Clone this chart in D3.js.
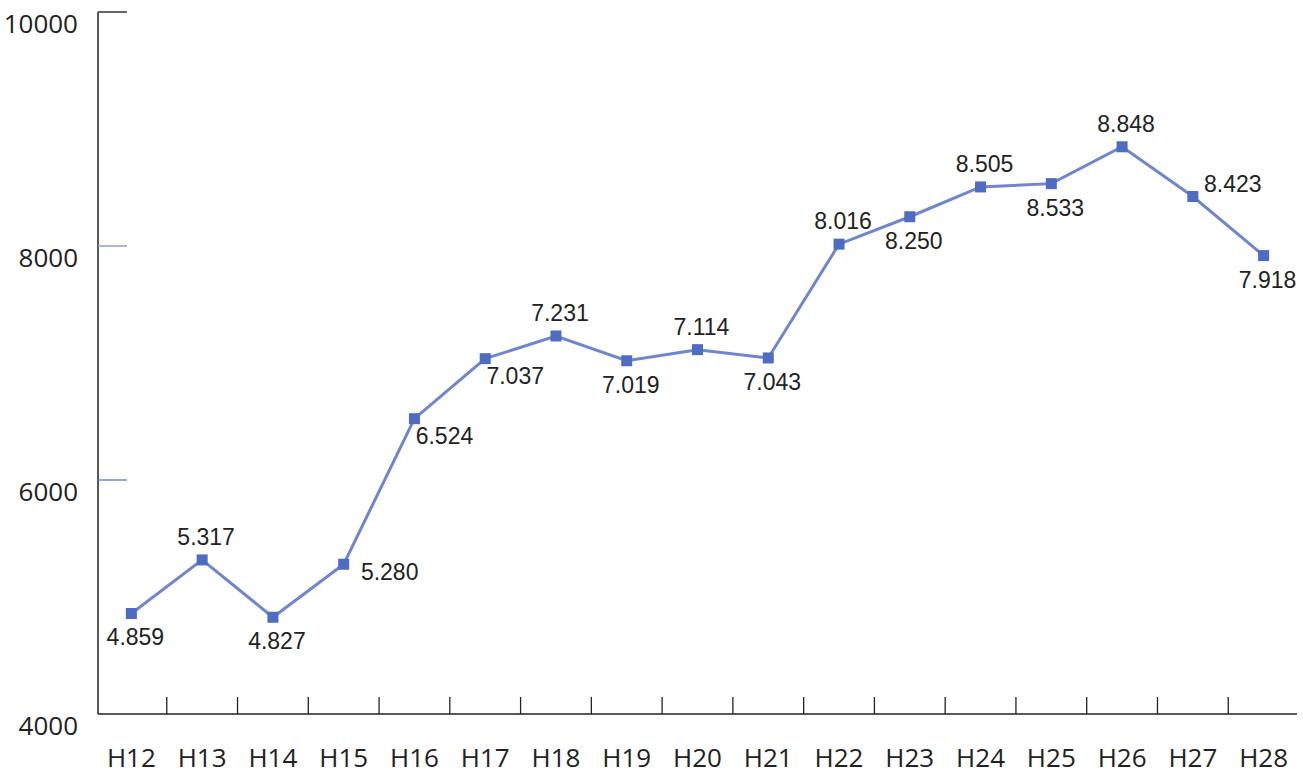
<!DOCTYPE html>
<html>
<head>
<meta charset="utf-8">
<script src="https://cdn.jsdelivr.net/npm/d3@7"></script>
<style>
  body { margin: 0; background: #fff; }
  svg { display: block; }
</style>
</head>
<body>
<div id="chart"></div>
<script>
// Data
const years = ["H12", "H13", "H14", "H15", "H16", "H17", "H18", "H19", "H20",
  "H21", "H22", "H23", "H24", "H25", "H26", "H27", "H28"];
const counts = [4859, 5317, 4827, 5280, 6524, 7037, 7231, 7019, 7114,
  7043, 8016, 8250, 8505, 8533, 8848, 8423, 7918];
const labelSide = ["below", "above", "below", "right", "belowRight", "belowRight", "above", "below", "above",
  "below", "above", "below", "above", "below", "above", "aboveRight", "below"];
const yTicks = [4000, 6000, 8000, 10000];

// Layout
const width = 1303, height = 779;
const plot = { left: 96, right: 1299, top: 12, bottom: 714 };

const svg = d3.select("#chart")
  .append("svg")
  .attr("width", width)
  .attr("height", height);

const xScale = d3.scaleBand().domain(years).range([plot.left, plot.right]).padding(0);
const yScale = d3.scaleLinear().domain([4000, 10000]).range([plot.bottom, plot.top]);
const cx = (d) => xScale(d) + xScale.bandwidth() / 2;

const axisFont = "'Open Sans', 'Noto Sans', sans-serif";

// Y axis: vertical line with inward ticks, labels sitting a bit under each tick
const axisX = 98;
svg.append("line")
  .attr("x1", axisX).attr("x2", axisX)
  .attr("y1", yScale(10000)).attr("y2", plot.bottom)
  .attr("stroke", "#222").attr("stroke-width", 1.5);

const tickColor = { 10000: "#333", 8000: "#8d9bd6", 6000: "#7484c4", 4000: "#333" };
svg.selectAll(".ytick")
  .data(yTicks.filter((t) => t !== 4000))
  .join("line")
  .attr("class", "ytick")
  .attr("x1", axisX).attr("x2", axisX + 29)
  .attr("y1", (d) => yScale(d)).attr("y2", (d) => yScale(d))
  .attr("stroke", (d) => tickColor[d]).attr("stroke-width", 1.5);

svg.selectAll(".ylabel")
  .data(yTicks)
  .join("text")
  .attr("class", "ylabel")
  .attr("x", 78)
  .attr("y", (d) => yScale(d) + 11)
  .attr("text-anchor", "end")
  .attr("dominant-baseline", "central")
  .attr("font-family", axisFont)
  .attr("font-size", 26)
  .attr("fill", "#222")
  .text((d) => d);

// X axis: baseline, ticks at band boundaries, category labels
svg.append("line")
  .attr("x1", axisX).attr("x2", 1297)
  .attr("y1", plot.bottom).attr("y2", plot.bottom)
  .attr("stroke", "#222").attr("stroke-width", 1.5);

svg.selectAll(".xtick")
  .data(years.slice(1))
  .join("line")
  .attr("class", "xtick")
  .attr("x1", (d) => xScale(d)).attr("x2", (d) => xScale(d))
  .attr("y1", plot.bottom - 17).attr("y2", plot.bottom)
  .attr("stroke", "#222").attr("stroke-width", 1.3);

svg.selectAll(".xlabel")
  .data(years)
  .join("text")
  .attr("class", "xlabel")
  .attr("x", (d) => cx(d))
  .attr("y", 757)
  .attr("text-anchor", "middle")
  .attr("dominant-baseline", "central")
  .attr("font-family", axisFont)
  .attr("font-size", 26)
  .attr("fill", "#222")
  .text((d) => d);

// Line + markers
const series = years.map((y, i) => ({ year: y, value: counts[i], side: labelSide[i] }));

const line = d3.line()
  .x((d) => cx(d.year))
  .y((d) => yScale(d.value));

svg.append("path")
  .datum(series)
  .attr("d", line)
  .attr("fill", "none")
  .attr("stroke", "#6f86cd")
  .attr("stroke-width", 3);

const markerSize = 11;
svg.selectAll(".marker")
  .data(series)
  .join("rect")
  .attr("class", "marker")
  .attr("x", (d) => cx(d.year) - markerSize / 2)
  .attr("y", (d) => yScale(d.value) - markerSize / 2)
  .attr("width", markerSize)
  .attr("height", markerSize)
  .attr("fill", "#4d6cc2");

// Value labels (thousands separated by a dot)
const offsets = {
  below: [4, 24],
  above: [4, -23],
  right: [46, 8],
  belowRight: [30, 17],
  aboveRight: [40, -13],
};
const fmt = (v) => d3.format(",")(v).replace(",", ".");

svg.selectAll(".vlabel")
  .data(series)
  .join("text")
  .attr("class", "vlabel")
  .attr("x", (d) => cx(d.year) + offsets[d.side][0])
  .attr("y", (d) => yScale(d.value) + offsets[d.side][1])
  .attr("text-anchor", "middle")
  .attr("dominant-baseline", "central")
  .attr("font-family", "'Liberation Sans Narrow', 'Liberation Sans', Arial, sans-serif")
  .attr("font-size", 23)
  .attr("fill", "#222")
  .text((d) => fmt(d.value));
</script>
</body>
</html>
